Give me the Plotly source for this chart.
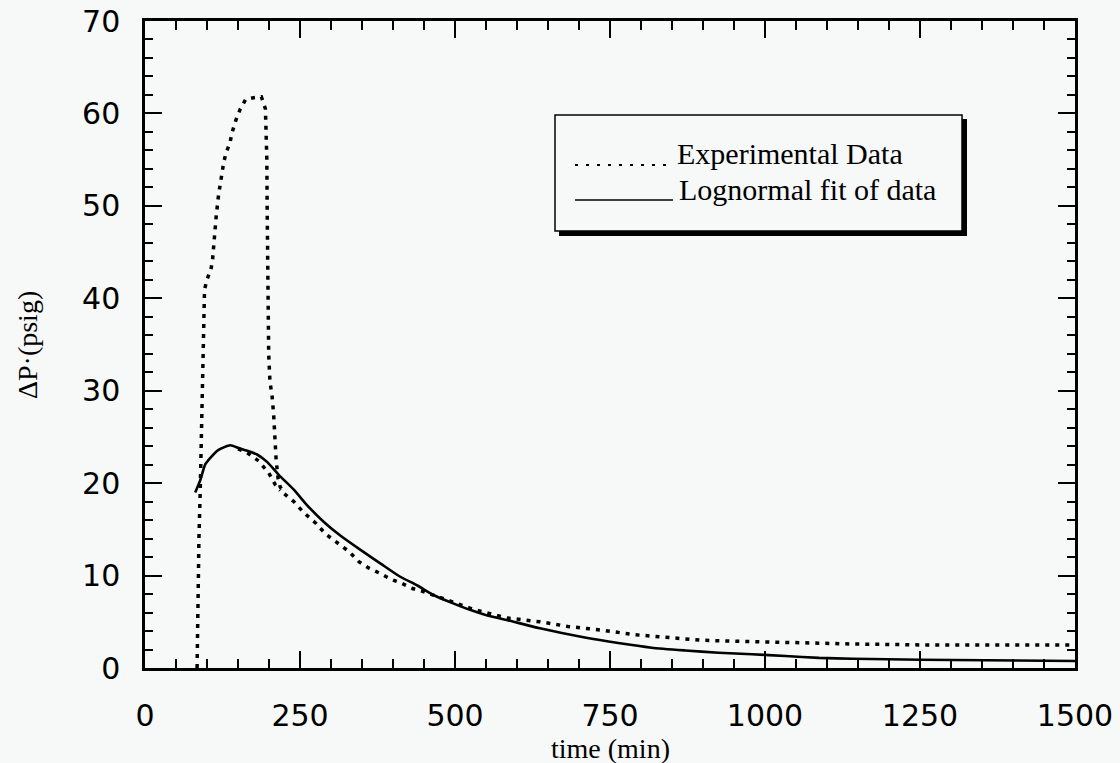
import plotly.graph_objects as go

# ---------------- data ----------------
exp_time = [84, 85, 87, 89, 90, 91.5, 92, 93.3, 94.4, 96, 99.8, 106.3, 109, 110.5, 112.2, 115,
            118.7, 121.4, 123.5, 126.7, 130.5, 137, 140.3, 146.7, 153.2, 162.3, 175.3, 187.7,
            194.2, 196.5, 197, 197.5, 198, 199.5, 201.5, 205, 207.6, 209.5, 211.5, 214.7, 218,
            223.8, 240, 256.2, 275, 291.3, 310.2, 329, 345, 361.3, 380.3, 396.4, 412.6, 431.6,
            447.7, 472, 500, 531.5, 585, 637, 682.2, 736, 790, 844, 898, 952, 1006, 1060,
            1141, 1250, 1500,
            None,
            150, 164.6, 183.3, 199.5, 210.4, 218]
exp_dp = [0, 8, 14, 19, 22.5, 27, 31, 34.8, 38.4, 40.9, 42.0, 43.1, 44.2, 45.4, 47.6, 49.0,
          51.2, 52.5, 53.5, 54.6, 55.7, 56.8, 57.9, 59.3, 60.4, 61.5, 61.7, 61.8,
          60.5, 55, 50, 45, 40, 34, 31, 29.4, 27.3, 25, 22.5, 20.5, 19.6,
          18.9, 18.0, 16.8, 15.7, 14.5, 13.5, 12.6, 11.5, 10.8, 10.2, 9.6, 9.2, 8.6,
          8.3, 7.7, 7.1, 6.3, 5.4, 5.0, 4.5, 4.1, 3.6, 3.3, 3.0, 2.9, 2.8, 2.7,
          2.6, 2.5, 2.5,
          None,
          23.7, 23.3, 22.4, 21.1, 19.8, 19.2]

fit_time = [81, 89, 97, 105, 118.6, 137.5, 151, 165, 180.7, 196.9, 215.7, 240, 261.6, 288.5,
            315.5, 347, 380, 411, 440, 465, 493, 524, 547, 589, 637, 709.3, 763.3,
            817.2, 871.1, 925, 979, 1033, 1087, 1141, 1250, 1500]
fit_dp = [19.0, 20.3, 22.0, 22.7, 23.6, 24.1, 23.8, 23.5, 23.1, 22.3, 20.9, 19.3, 17.6, 15.8,
          14.3, 12.8, 11.3, 9.9, 8.9, 7.9, 7.1, 6.3, 5.8, 5.1, 4.3, 3.3, 2.7,
          2.2, 1.9, 1.65, 1.48, 1.3, 1.1, 1.0, 0.9, 0.75]

x_ticks = [0, 250, 500, 750, 1000, 1250, 1500]
y_ticks = [0, 10, 20, 30, 40, 50, 60, 70]
series_names = ["Experimental Data", "Lognormal fit of data"]
x_title = "time (min)"
y_title = "ΔP·(psig)"

# ---------------- layout geometry (pixels) ----------------
W, H = 1120, 763
L, R, T, B = 145, 1075, 21, 668
BG = "#f7f8f8"
SERIF = "Liberation Serif, Times New Roman, serif"
SANS = "DejaVu Sans, sans-serif"
DOT = "4px,6px"


def px(xp):
    return (xp - L) / (R - L)


def py(yp):
    return (B - yp) / (B - T)


fig = go.Figure()
fig.add_trace(go.Scatter(x=exp_time, y=exp_dp, mode="lines", name=series_names[0],
                         line=dict(color="black", width=3.5, dash=DOT), connectgaps=False))
fig.add_trace(go.Scatter(x=fit_time, y=fit_dp, mode="lines", name=series_names[1],
                         line=dict(color="black", width=2.6, shape="spline", smoothing=0.6)))

axis_common = dict(
    showline=True, linecolor="black", linewidth=2.5, mirror="allticks",
    ticks="inside", tickcolor="black", tickwidth=2.2, ticklen=17,
    showgrid=False, zeroline=False, automargin=False,
    tickfont=dict(family=SANS, size=30, color="black"),
)

fig.update_xaxes(range=[0, 1500], tickmode="array", tickvals=x_ticks,
                 ticktext=[str(v) for v in x_ticks], ticklabelstandoff=19,
                 minor=dict(dtick=50, tick0=0, ticks="inside", ticklen=9, tickwidth=2.2,
                            tickcolor="black", showgrid=False),
                 **axis_common)
fig.update_yaxes(range=[0, 70], tickmode="array", tickvals=y_ticks,
                 ticktext=[str(v) for v in y_ticks], ticklabelstandoff=16,
                 minor=dict(dtick=2, tick0=0, ticks="inside", ticklen=8, tickwidth=2.2,
                            tickcolor="black", showgrid=False),
                 **axis_common)

shapes = []
# legend box with drop shadow
shapes.append(dict(type="rect", xref="paper", yref="paper",
                   x0=px(559), x1=px(967), y0=py(236), y1=py(119),
                   fillcolor="black", line=dict(width=0), layer="above"))
shapes.append(dict(type="rect", xref="paper", yref="paper",
                   x0=px(555), x1=px(962), y0=py(231), y1=py(115),
                   fillcolor=BG, line=dict(color="black", width=1.5), layer="above"))
# legend samples
shapes.append(dict(type="line", xref="paper", yref="paper",
                   x0=px(575), x1=px(672), y0=py(165), y1=py(165),
                   line=dict(color="black", width=2, dash="3px,8px"), layer="above"))
shapes.append(dict(type="line", xref="paper", yref="paper",
                   x0=px(575), x1=px(673), y0=py(200), y1=py(200),
                   line=dict(color="black", width=1.5), layer="above"))

annotations = [
    dict(text=series_names[0], xref="paper", yref="paper", x=px(675), y=py(154),
         xanchor="left", yanchor="middle", showarrow=False,
         font=dict(family=SERIF, size=30, color="black")),
    dict(text=series_names[1], xref="paper", yref="paper", x=px(677), y=py(189),
         xanchor="left", yanchor="middle", showarrow=False,
         font=dict(family=SERIF, size=30, color="black")),
    dict(text=x_title, xref="paper", yref="paper", x=px(610), y=py(748),
         xanchor="center", yanchor="middle", showarrow=False,
         font=dict(family=SERIF, size=28, color="black")),
    dict(text=y_title, xref="paper", yref="paper", x=px(27), y=py(345),
         xanchor="center", yanchor="middle", showarrow=False, textangle=-90,
         font=dict(family=SERIF, size=28, color="black")),
]

fig.update_layout(
    width=W, height=H,
    margin=dict(l=L, r=W - R, t=T, b=H - B, pad=0, autoexpand=False),
    paper_bgcolor=BG, plot_bgcolor=BG,
    showlegend=False,
    shapes=shapes, annotations=annotations,
)

fig.write_html("out.html", config={"displayModeBar": False},
               post_script="document.body.style.margin='0';document.body.style.overflow='hidden';")
